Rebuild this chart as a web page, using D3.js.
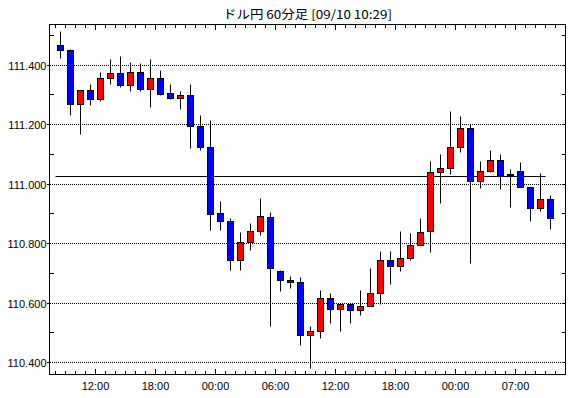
<!DOCTYPE html>
<html>
<head>
<meta charset="utf-8">
<script src="https://cdn.jsdelivr.net/npm/d3@7"></script>
<style>
body { margin: 0; background: #fff; }
text { font-family: "Liberation Sans", Arial, sans-serif; font-size: 11px; fill: #000; }
</style>
</head>
<body>
<div id="chart"></div>
<script>
// hourly candles, 08:00 .. 10:00 (06:00 on the last day is skipped)
const times = [
    '08:00', '09:00', '10:00', '11:00', '12:00', '13:00', '14:00', '15:00',
    '16:00', '17:00', '18:00', '19:00', '20:00', '21:00', '22:00', '23:00',
    '00:00', '01:00', '02:00', '03:00', '04:00', '05:00', '06:00', '07:00',
    '08:00', '09:00', '10:00', '11:00', '12:00', '13:00', '14:00', '15:00',
    '16:00', '17:00', '18:00', '19:00', '20:00', '21:00', '22:00', '23:00',
    '00:00', '01:00', '02:00', '03:00', '04:00', '05:00', '07:00', '08:00',
    '09:00', '10:00'
];
const opens = [
    111.466, 111.449, 111.266, 111.315, 111.285, 111.355, 111.372, 111.330, 111.375, 111.318,
    111.353, 111.305, 111.287, 111.298, 111.194, 111.123, 110.902, 110.875, 110.744, 110.804,
    110.841, 110.889, 110.707, 110.677, 110.670, 110.492, 110.505, 110.616, 110.579, 110.596,
    110.576, 110.589, 110.633, 110.744, 110.724, 110.750, 110.794, 110.841, 111.039, 111.053,
    111.123, 111.187, 111.007, 111.043, 111.080, 111.033, 111.043, 110.989, 110.918, 110.949
];
const highs = [
    111.514, 111.452, 111.315, 111.335, 111.375, 111.420, 111.427, 111.410, 111.405, 111.420,
    111.380, 111.335, 111.311, 111.333, 111.232, 111.214, 110.940, 110.885, 110.839, 110.868,
    110.950, 110.905, 110.710, 110.691, 110.687, 110.523, 110.641, 110.631, 110.596, 110.596,
    110.641, 110.718, 110.772, 110.775, 110.842, 110.835, 110.886, 111.077, 111.101, 111.245,
    111.228, 111.201, 111.077, 111.114, 111.101, 111.050, 111.071, 110.989, 111.034, 110.960
];
const lows = [
    111.421, 111.229, 111.167, 111.263, 111.276, 111.333, 111.326, 111.310, 111.310, 111.256,
    111.299, 111.283, 111.251, 111.120, 111.112, 110.843, 110.843, 110.711, 110.709, 110.776,
    110.826, 110.521, 110.638, 110.648, 110.459, 110.380, 110.480, 110.530, 110.504, 110.530,
    110.558, 110.589, 110.595, 110.662, 110.705, 110.742, 110.794, 110.771, 110.934, 111.033,
    111.105, 110.734, 110.984, 111.038, 110.981, 110.920, 110.989, 110.873, 110.907, 110.846
];
const closes = [
    111.449, 111.266, 111.315, 111.285, 111.355, 111.372, 111.330, 111.375, 111.318, 111.353,
    111.302, 111.288, 111.298, 111.194, 111.123, 110.898, 110.875, 110.744, 110.804, 110.841,
    110.892, 110.717, 110.677, 110.670, 110.492, 110.505, 110.616, 110.579, 110.596, 110.576,
    110.589, 110.633, 110.744, 110.724, 110.750, 110.794, 110.838, 111.039, 111.053, 111.123,
    111.187, 111.007, 111.043, 111.080, 111.028, 111.028, 110.989, 110.918, 110.949, 110.885
];
const yTicks = [110.4, 110.5, 110.6, 110.7, 110.8, 110.9, 111.0, 111.1, 111.2, 111.3, 111.4, 111.5];
const yLabels = [110.4, 110.6, 110.8, 111.0, 111.2, 111.4];
const xTickIndex = [4, 10, 16, 22, 28, 34, 40, 46];
const refValue = 111.027;
const title = 'ドル円 60分足 [09/10 10:29]';

let width = 570, height = 398;
let mLeft = 49.5, mRight = 565.5, mTop = 24.5, mBottom = 374.5;

let svg = d3.select('#chart')
    .append('svg')
    .attr('width', width)
    .attr('height', height);

let idx = d3.range(times.length);

let x = d3.scaleBand().domain(idx).range([mLeft + 6, mLeft + 6 + 10 * times.length]);
let y = d3.scaleLinear().domain([110.4, 111.4]).range([362.7, 65]);

let cx = function (i) { return Math.floor(x(i) + x.bandwidth() / 2) + 0.5; };
let py = function (v) { return Math.floor(y(v)) + 0.5; };

// title
svg.append('text')
    .attr('x', (mLeft + mRight) / 2)
    .attr('y', 19)
    .attr('text-anchor', 'middle')
    .attr('textLength', 169)
    .attr('lengthAdjust', 'spacingAndGlyphs')
    .style('font-family', '"Noto Sans CJK JP", sans-serif')
    .style('font-size', '12px')
    .text(title);

// dotted grid
svg.append('g')
    .selectAll('line')
    .data(yLabels)
    .join('line')
    .attr('x1', mLeft + 0.5)
    .attr('x2', mRight - 0.5)
    .attr('y1', py)
    .attr('y2', py)
    .attr('stroke', '#000')
    .attr('stroke-width', 1)
    .attr('stroke-dasharray', '1,1')
    .attr('shape-rendering', 'crispEdges');

// y labels
svg.append('g')
    .selectAll('text')
    .data(yLabels)
    .join('text')
    .attr('x', mLeft - 3)
    .attr('y', function (d) { return py(d) + 4; })
    .attr('text-anchor', 'end')
    .text(function (d) { return d3.format('.3f')(d); });

// left ticks: outward at labels, inward between
let axisTicks = svg.append('g')
    .attr('stroke', '#000')
    .attr('stroke-width', 1)
    .attr('shape-rendering', 'crispEdges');
let inside = yTicks.filter(function (d) { return y(d) > mTop; });

axisTicks.selectAll('.ly')
    .data(inside)
    .join('line')
    .attr('class', 'ly')
    .attr('x1', function (d) { return yLabels.indexOf(d) >= 0 ? mLeft - 3 : mLeft; })
    .attr('x2', function (d) { return yLabels.indexOf(d) >= 0 ? mLeft : mLeft + 4; })
    .attr('y1', py)
    .attr('y2', py);

axisTicks.selectAll('.ry')
    .data(inside)
    .join('line')
    .attr('class', 'ry')
    .attr('x1', mRight - 4)
    .attr('x2', mRight)
    .attr('y1', py)
    .attr('y2', py);

// top / bottom ticks at every candle boundary
let bounds = d3.range(times.length + 1);
let bx = function (k) { return Math.floor(mLeft + 6 + 10 * k) + 0.5; };
let tickLen = function (k) { return xTickIndex.indexOf(k) >= 0 ? 5 : 3; };

axisTicks.selectAll('.tx')
    .data(bounds)
    .join('line')
    .attr('class', 'tx')
    .attr('x1', bx)
    .attr('x2', bx)
    .attr('y1', mTop)
    .attr('y2', function (k) { return mTop + tickLen(k); });

axisTicks.selectAll('.bx')
    .data(bounds)
    .join('line')
    .attr('class', 'bx')
    .attr('x1', bx)
    .attr('x2', bx)
    .attr('y1', mBottom)
    .attr('y2', function (k) { return mBottom - tickLen(k) - 1; });

// x labels
svg.append('g')
    .selectAll('text')
    .data(xTickIndex)
    .join('text')
    .attr('x', function (k) { return bx(k); })
    .attr('y', 390)
    .attr('text-anchor', 'middle')
    .text(function (k) { return times[k]; });

// reference line
svg.append('line')
    .attr('x1', bx(0))
    .attr('x2', bx(times.length - 1))
    .attr('y1', py(refValue))
    .attr('y2', py(refValue))
    .attr('stroke', '#000')
    .attr('stroke-width', 1);

// candles
let candles = svg.append('g')
    .selectAll('g')
    .data(idx)
    .join('g');

candles.append('line')
    .attr('x1', cx)
    .attr('x2', cx)
    .attr('y1', function (i) { return py(highs[i]); })
    .attr('y2', function (i) { return py(lows[i]); })
    .attr('stroke', '#000')
    .attr('stroke-width', 1);

candles.append('rect')
    .attr('x', function (i) { return cx(i) - 3; })
    .attr('width', 6)
    .attr('y', function (i) { return py(Math.max(opens[i], closes[i])); })
    .attr('height', function (i) { return Math.max(1, py(Math.min(opens[i], closes[i])) - py(Math.max(opens[i], closes[i]))); })
    .attr('fill', function (i) { return closes[i] >= opens[i] ? '#ff0000' : '#0000ff'; })
    .attr('stroke', '#000')
    .attr('stroke-width', 1);

// frame
svg.append('rect')
    .attr('x', mLeft)
    .attr('y', mTop)
    .attr('width', mRight - mLeft)
    .attr('height', mBottom - mTop)
    .attr('fill', 'none')
    .attr('stroke', '#000')
    .attr('stroke-width', 1);
</script>
</body>
</html>
